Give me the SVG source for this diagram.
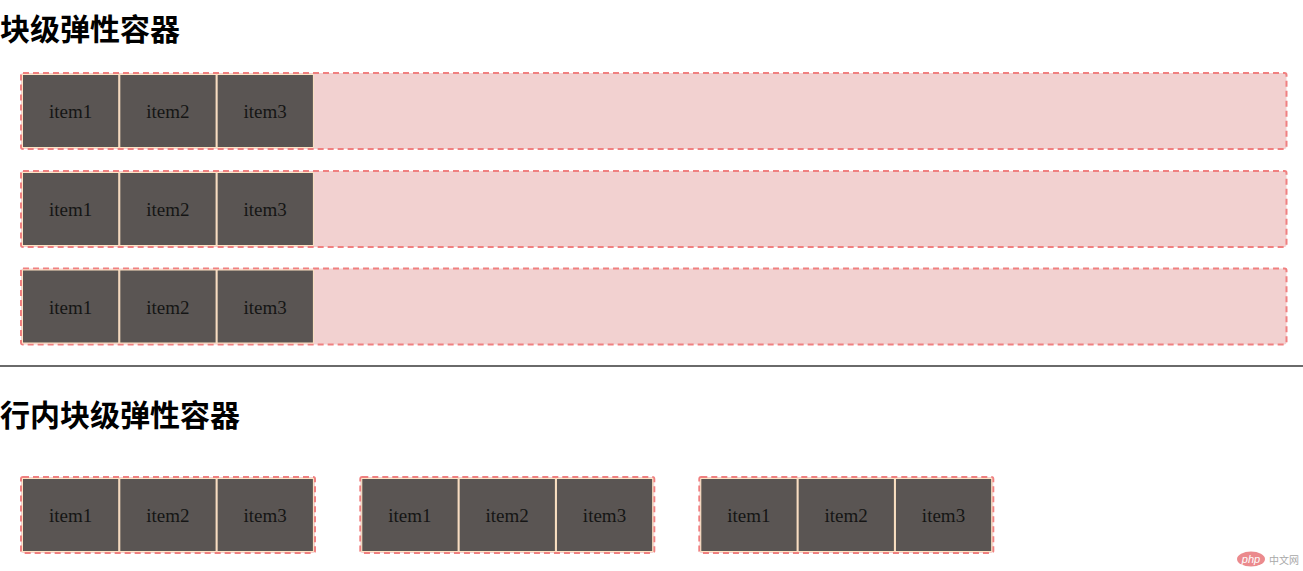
<svg xmlns="http://www.w3.org/2000/svg" width="1303" height="571" viewBox="0 0 1303 571">
  <style>
    .h { font-family: "Noto Sans CJK SC", "Noto Sans", sans-serif; font-weight: bold; font-size: 30px; fill: #000; }
    .box { fill: #f2d1d0; stroke: #f08080; stroke-width: 2; stroke-dasharray: 6 4; }
    .item rect { fill: #5a5553; stroke: #ffe4c4; stroke-width: 1; }
    .item text { font-family: "Liberation Serif", "Times New Roman", serif; font-size: 19px; fill: #151515; text-anchor: middle; }
  </style>
  <rect width="1303" height="571" fill="#fff"/>
  <text class="h" x="0" y="40">块级弹性容器</text>

  <g id="block1">
    <rect class="box" x="21" y="73" width="1265.5" height="76" rx="2"/>
    <g class="item"><rect x="22.5" y="74.5" width="96.3" height="73"/><text x="70.6" y="118">item1</text></g>
    <g class="item"><rect x="119.8" y="74.5" width="96.3" height="73"/><text x="167.9" y="118">item2</text></g>
    <g class="item"><rect x="217.1" y="74.5" width="96.3" height="73"/><text x="265.2" y="118">item3</text></g>
  </g>
  <g id="block2">
    <rect class="box" x="21" y="171" width="1265.5" height="76" rx="2"/>
    <g class="item"><rect x="22.5" y="172.5" width="96.3" height="73"/><text x="70.6" y="216">item1</text></g>
    <g class="item"><rect x="119.8" y="172.5" width="96.3" height="73"/><text x="167.9" y="216">item2</text></g>
    <g class="item"><rect x="217.1" y="172.5" width="96.3" height="73"/><text x="265.2" y="216">item3</text></g>
  </g>
  <g id="block3">
    <rect class="box" x="21" y="268.5" width="1265.5" height="76" rx="2"/>
    <g class="item"><rect x="22.5" y="270" width="96.3" height="73"/><text x="70.6" y="313.5">item1</text></g>
    <g class="item"><rect x="119.8" y="270" width="96.3" height="73"/><text x="167.9" y="313.5">item2</text></g>
    <g class="item"><rect x="217.1" y="270" width="96.3" height="73"/><text x="265.2" y="313.5">item3</text></g>
  </g>

  <rect id="hr" x="0" y="365" width="1303" height="2" fill="#6a6a6a"/>

  <text class="h" x="0" y="426">行内块级弹性容器</text>

  <g id="inline1">
    <rect class="box" x="21" y="477" width="294" height="76" rx="2"/>
    <g class="item"><rect x="22.5" y="478.5" width="96.3" height="73"/><text x="70.6" y="522">item1</text></g>
    <g class="item"><rect x="119.8" y="478.5" width="96.3" height="73"/><text x="167.9" y="522">item2</text></g>
    <g class="item"><rect x="217.1" y="478.5" width="96.3" height="73"/><text x="265.2" y="522">item3</text></g>
  </g>
  <g id="inline2">
    <rect class="box" x="360.3" y="477" width="294" height="76" rx="2"/>
    <g class="item"><rect x="361.8" y="478.5" width="96.3" height="73"/><text x="409.9" y="522">item1</text></g>
    <g class="item"><rect x="459.1" y="478.5" width="96.3" height="73"/><text x="507.2" y="522">item2</text></g>
    <g class="item"><rect x="556.4" y="478.5" width="96.3" height="73"/><text x="604.5" y="522">item3</text></g>
  </g>
  <g id="inline3">
    <rect class="box" x="699.3" y="477" width="294" height="76" rx="2"/>
    <g class="item"><rect x="700.8" y="478.5" width="96.3" height="73"/><text x="748.9" y="522">item1</text></g>
    <g class="item"><rect x="798.1" y="478.5" width="96.3" height="73"/><text x="846.2" y="522">item2</text></g>
    <g class="item"><rect x="895.4" y="478.5" width="96.3" height="73"/><text x="943.5" y="522">item3</text></g>
  </g>

  <g id="watermark" opacity="0.85">
    <ellipse cx="1251" cy="559" rx="14" ry="7.5" fill="#e8767a"/>
    <text x="1251" y="563" font-family="Liberation Sans, sans-serif" font-size="11" font-style="italic" fill="#fff" text-anchor="middle">php</text>
    <text x="1269" y="564" font-family="Noto Sans CJK SC, sans-serif" font-size="10" fill="#9a9a9a">中文网</text>
  </g>
</svg>
